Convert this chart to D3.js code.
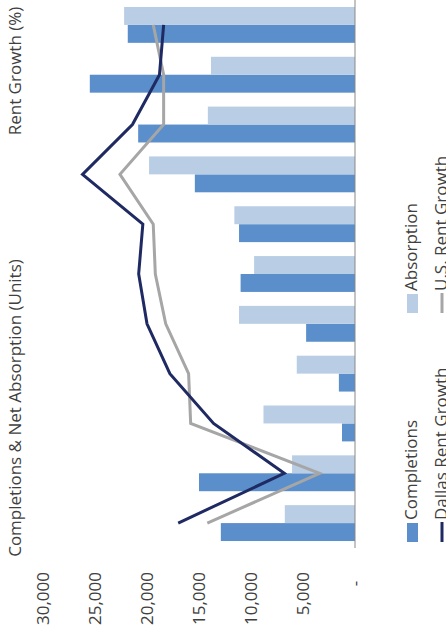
<!DOCTYPE html>
<html>
<head>
<meta charset="utf-8">
<script src="https://cdn.jsdelivr.net/npm/d3@7"></script>
<style>
  body { margin: 0; background: #fff; }
  text { font-family: "Open Sans", sans-serif; fill: #404040; }
</style>
</head>
<body>
<div id="graph"></div>
<script>
// years (category labels are cut off in the picture)
var years = ["2008","2009","2010","2011","2012","2013","2014","2015","2016","2017","2018"];
var completions = [12900, 15000, 1250, 1550, 4700, 11000, 11150, 15400, 20850, 25500, 21850];
var absorption  = [6750, 6050, 8800, 5600, 11150, 9700, 11600, 19800, 14150, 13850, 22200];
var dallasRent  = [2.5, -2.6, 0.8, 2.9, 4.0, 4.4, 4.2, 7.1, 4.7, 3.4, 3.2];
var usRent      = [1.1, -4.3, 1.9, 2.0, 3.1, 3.6, 3.7, 5.3, 3.2, 3.2, 3.7];
var unitTicks = [0, 5000, 10000, 15000, 20000, 25000, 30000];
var barSeries = ["Completions", "Absorption"];
var lineSeries = ["Dallas Rent Growth", "U.S. Rent Growth"];

var width = 446, height = 634;
// the chart is drawn upright in a 634 x 446 frame and turned a quarter left
var W = 634, H = 446;

var barColors = ["#5B8FCB", "#B9CDE5"];
var lineColors = ["#1F2A62", "#A6A6A6"];

var svg = d3.select("#graph").append("svg")
    .attr("width", width)
    .attr("height", height);

var g = svg.append("g")
    .attr("transform", "translate(0," + height + ") rotate(-90)");

var x = d3.scaleBand()
    .domain(years)
    .range([86, W])
    .paddingInner(0.28)
    .paddingOuter(0.14);

var xs = d3.scaleBand()
    .domain(barSeries)
    .range([0, x.bandwidth()]);

var y = d3.scaleLinear()
    .domain([0, 30000])
    .range([355, 43]);

var y2 = d3.scaleLinear()
    .domain([-6, 9])
    .range([355, 43]);

var rows = years.map(function(yr, i) {
  return {year: yr, vals: [completions[i], absorption[i]]};
});

// bars
var grp = g.selectAll(".cat")
    .data(rows)
    .enter().append("g")
    .attr("class", "cat")
    .attr("transform", d => "translate(" + x(d.year) + ",0)");

grp.selectAll("rect")
    .data(d => d.vals.map((v, j) => ({key: barSeries[j], v: v, j: j})))
    .enter().append("rect")
    .attr("x", d => xs(d.key))
    .attr("y", d => y(d.v))
    .attr("width", xs.bandwidth())
    .attr("height", d => y(0) - y(d.v))
    .style("fill", d => barColors[d.j]);

// baseline
g.append("line")
    .attr("x1", 86).attr("x2", W)
    .attr("y1", y(0)).attr("y2", y(0))
    .style("stroke", "#898989")
    .style("stroke-width", 1);

// rent growth lines
var line = d3.line()
    .x((d, i) => x(years[i]) + x.bandwidth() / 2)
    .y(d => y2(d));

[dallasRent, usRent].slice().reverse().forEach(function(s, k) {
  var idx = 1 - k;
  g.append("path")
      .datum(s)
      .attr("d", line)
      .style("fill", "none")
      .style("stroke", lineColors[idx])
      .style("stroke-width", 3);
});

// unit axis
var axis = g.append("g")
    .attr("transform", "translate(62,0)")
    .call(d3.axisLeft(y)
      .tickValues(unitTicks)
      .tickSize(0)
      .tickPadding(0)
      .tickFormat(d => d === 0 ? "-\u00A0\u00A0" : d3.format(",")(d)));
axis.select(".domain").remove();
axis.selectAll("text")
    .style("font-size", "17px")
    .style("font-family", "'Open Sans', sans-serif")
    .style("fill", "#404040");

// axis titles
g.append("text")
    .attr("x", 226).attr("y", 21)
    .attr("text-anchor", "middle")
    .style("font-size", "17px")
    .text("Completions & Net Absorption (Units)");

g.append("text")
    .attr("x", 563).attr("y", 21)
    .attr("text-anchor", "middle")
    .style("font-size", "17px")
    .text("Rent Growth (%)");

// legend
var legX = [92, 321];
barSeries.forEach(function(name, i) {
  g.append("rect")
      .attr("x", legX[i]).attr("y", 407)
      .attr("width", 19).attr("height", 11)
      .style("fill", barColors[i]);
  g.append("text")
      .attr("x", legX[i] + 22).attr("y", 417)
      .style("font-size", "17px")
      .text(name);
});
lineSeries.forEach(function(name, i) {
  g.append("line")
      .attr("x1", legX[i]).attr("x2", legX[i] + 20)
      .attr("y1", 442).attr("y2", 442)
      .style("stroke", lineColors[i])
      .style("stroke-width", 3);
  g.append("text")
      .attr("x", legX[i] + 22).attr("y", 447)
      .style("font-size", "17px")
      .text(name);
});
</script>
</body>
</html>
